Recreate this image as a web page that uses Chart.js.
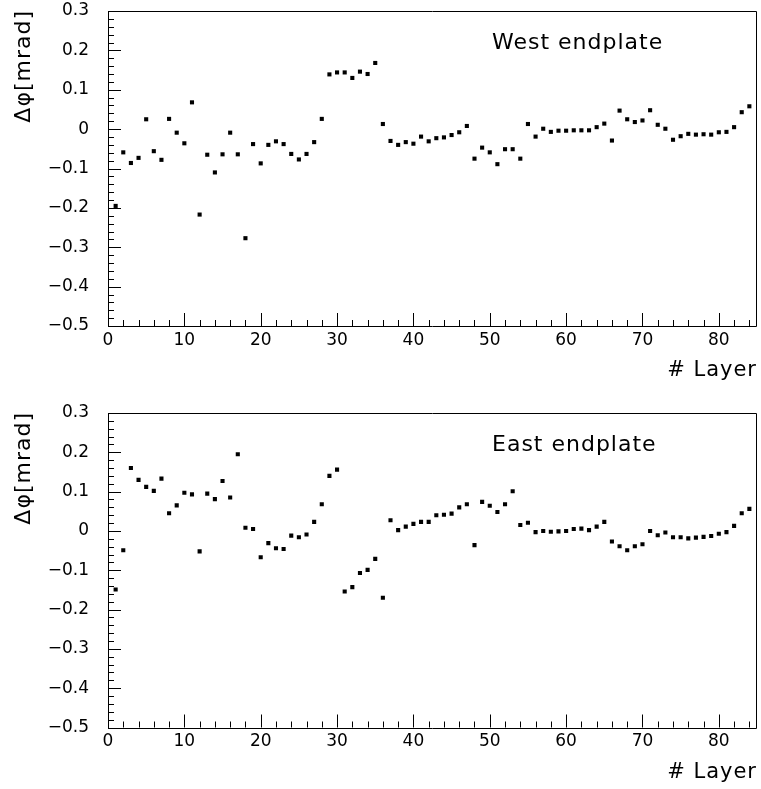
<!DOCTYPE html>
<html>
<head>
<meta charset="utf-8">
<script src="https://cdn.jsdelivr.net/npm/chart.js@4/dist/chart.umd.min.js"></script>
<style>
  html, body { margin: 0; padding: 0; background: #fff; }
  #wrap { position: relative; width: 761px; height: 789px; }
  canvas { position: absolute; left: 0; }
</style>
</head>
<body>
<div id="wrap">
  <canvas id="west" width="761" height="400" style="top:0"></canvas>
  <canvas id="east" width="761" height="389" style="top:400px"></canvas>
</div>
<script>
// layer numbers and measured delta-phi per layer (mrad)
const layers = [
  1, 2, 3, 4, 5, 6, 7, 8, 9, 10, 11, 12, 13, 14, 15, 16, 17, 18, 19, 20, 21,
  22, 23, 24, 25, 26, 27, 28, 29, 30, 31, 32, 33, 34, 35, 36, 37, 38, 39, 40, 41, 42,
  43, 44, 45, 46, 47, 48, 49, 50, 51, 52, 53, 54, 55, 56, 57, 58, 59, 60, 61, 62, 63,
  64, 65, 66, 67, 68, 69, 70, 71, 72, 73, 74, 75, 76, 77, 78, 79, 80, 81, 82, 83, 84
];

const westDphi = [
  -0.195, -0.059, -0.086, -0.073, 0.025, -0.056, -0.078, 0.026, -0.009, -0.036,
  0.068, -0.217, -0.065, -0.110, -0.064, -0.009, -0.064, -0.277, -0.038, -0.087,
  -0.040, -0.031, -0.038, -0.063, -0.077, -0.063, -0.033, 0.026, 0.139, 0.144,
  0.144, 0.130, 0.146, 0.140, 0.168, 0.013, -0.030, -0.040, -0.033, -0.037,
  -0.019, -0.031, -0.023, -0.021, -0.015, -0.008, 0.008, -0.075, -0.047, -0.059,
  -0.089, -0.051, -0.051, -0.075, 0.013, -0.019, 0.001, -0.007, -0.004, -0.004,
  -0.003, -0.003, -0.003, 0.005, 0.014, -0.029, 0.047, 0.025, 0.018, 0.022,
  0.048, 0.011, 0.001, -0.027, -0.018, -0.012, -0.014, -0.013, -0.014, -0.008,
  -0.007, 0.005, 0.043, 0.058
];

const eastDphi = [
  -0.149, -0.049, 0.160, 0.130, 0.112, 0.102, 0.133, 0.045, 0.065, 0.097,
  0.093, -0.052, 0.095, 0.081, 0.127, 0.085, 0.195, 0.008, 0.005, -0.067,
  -0.031, -0.044, -0.046, -0.012, -0.016, -0.009, 0.023, 0.068, 0.140, 0.156,
  -0.154, -0.143, -0.107, -0.099, -0.071, -0.170, 0.027, 0.002, 0.011, 0.018,
  0.023, 0.023, 0.040, 0.041, 0.044, 0.060, 0.068, -0.036, 0.074, 0.064,
  0.048, 0.068, 0.101, 0.015, 0.021, -0.003, 0.000, -0.002, -0.001, 0.000,
  0.005, 0.006, 0.002, 0.011, 0.023, -0.027, -0.039, -0.049, -0.039, -0.034,
  0.000, -0.011, -0.004, -0.016, -0.016, -0.019, -0.017, -0.015, -0.013, -0.007,
  -0.003, 0.013, 0.045, 0.056
];

const yTicks = [-0.5, -0.4, -0.3, -0.2, -0.1, 0, 0.1, 0.2, 0.3];
const xTicks = [0, 10, 20, 30, 40, 50, 60, 70, 80];

const FONT = '"DejaVu Sans", "Liberation Sans", sans-serif';

// box, inward ticks on left and bottom axes, panel title and axis titles
const framePlugin = {
  id: 'frame',
  afterDraw(chart, args, opts) {
    const { ctx, chartArea: a, scales: { x, y } } = chart;
    ctx.save();
    ctx.strokeStyle = '#000';
    ctx.lineWidth = 1;
    ctx.beginPath();
    ctx.rect(Math.round(a.left) + 0.5, Math.round(a.top) + 0.5,
      Math.round(a.right - a.left) - 1, Math.round(a.bottom - a.top));
    ctx.stroke();

    ctx.beginPath();
    for (let i = 0; i <= 40; i++) {
      const py = Math.round(y.getPixelForValue(-0.5 + i * 0.02)) + 0.5;
      const len = i % 5 === 0 ? 13 : 6;
      ctx.moveTo(a.left, py);
      ctx.lineTo(a.left + len, py);
    }
    for (let i = 0; i * 2 <= 85; i++) {
      const px = Math.round(x.getPixelForValue(i * 2)) + 0.5;
      const len = i % 5 === 0 ? 13 : 6;
      ctx.moveTo(px, a.bottom);
      ctx.lineTo(px, a.bottom - len);
    }
    ctx.stroke();

    ctx.fillStyle = '#000';
    ctx.font = '22px ' + FONT;
    ctx.letterSpacing = '1px';
    ctx.textBaseline = 'alphabetic';
    ctx.textAlign = 'left';
    ctx.fillText(opts.title, 492, a.top + 38);

    ctx.font = '21px ' + FONT;
    ctx.textAlign = 'right';
    ctx.fillText('# Layer', 757, a.bottom + 50);

    // rotated y title, its end flush with the top of the frame
    const yTitle = 'Δφ[mrad]';
    ctx.font = '22px ' + FONT;
    ctx.textAlign = 'left';
    ctx.textBaseline = 'middle';
    const w = ctx.measureText(yTitle).width;
    ctx.translate(24, a.top - 1);
    ctx.rotate(-Math.PI / 2);
    ctx.fillText(yTitle, -w, 0);
    ctx.restore();
  }
};

function makePanel(id, values, title, top, bottom, height) {
  const points = layers.map((l, i) => ({ x: l, y: values[i] }));
  return new Chart(document.getElementById(id), {
    type: 'scatter',
    data: {
      datasets: [{
        data: points,
        pointStyle: 'rect',
        pointRadius: 2.9,
        pointBorderWidth: 0,
        backgroundColor: '#000',
        borderColor: '#000'
      }]
    },
    options: {
      responsive: false,
      animation: false,
      events: [],
      layout: { padding: { top: top, right: 1.4, left: 0, bottom: 0 } },
      scales: {
        x: {
          type: 'linear',
          min: 0,
          max: 85,
          grid: { display: false, drawTicks: false },
          border: { display: false },
          afterBuildTicks: s => { s.ticks = xTicks.map(v => ({ value: v })); },
          afterFit: s => {
            s.height = height - bottom;
            s.paddingLeft = 0;
            s.paddingRight = 0;
          },
          ticks: {
            padding: 4,
            color: '#000',
            maxRotation: 0,
            font: { family: FONT, size: 17 },
            callback: v => String(v)
          }
        },
        y: {
          min: -0.5,
          max: 0.3,
          grid: { display: false, drawTicks: false },
          border: { display: false },
          afterBuildTicks: s => { s.ticks = yTicks.map(v => ({ value: v })); },
          afterFit: s => {
            s.width = 108;
            s.paddingTop = 0;
            s.paddingBottom = 0;
          },
          ticks: {
            padding: 19,
            color: '#000',
            font: { family: FONT, size: 17 },
            callback: v => v === 0 ? '0' : v.toFixed(1).replace('-', '\u2212')
          }
        }
      },
      plugins: {
        legend: { display: false },
        tooltip: { enabled: false },
        frame: { title: title }
      }
    },
    plugins: [framePlugin]
  });
}

makePanel('west', westDphi, 'West endplate', 11, 326, 400);
makePanel('east', eastDphi, 'East endplate', 13, 327.5, 389);
</script>
</body>
</html>
